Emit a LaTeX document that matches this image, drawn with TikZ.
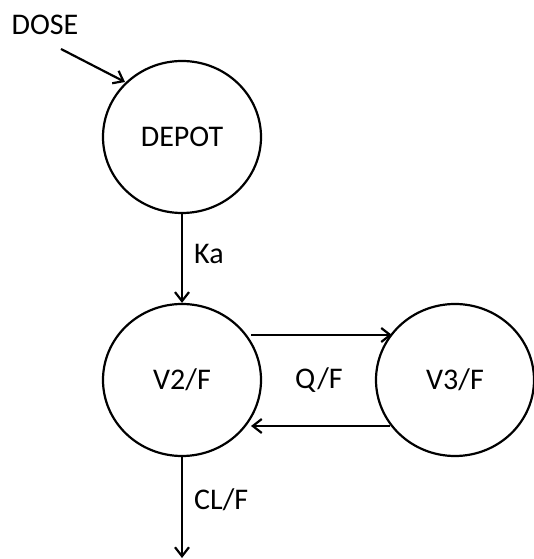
\documentclass[tikz,border=0pt]{standalone}
\usepackage{fontspec}
\setmainfont{Carlito}
\usetikzlibrary{arrows.meta,shapes.geometric}
\begin{document}
\begin{tikzpicture}[x=1pt,y=1pt,
  comp/.style={draw, ellipse, line width=2.2pt, minimum width=158pt, minimum height=152pt, inner sep=0pt, font=\fontsize{30}{32}\selectfont},
  lbl/.style={inner sep=0pt, font=\fontsize{30}{32}\selectfont},
  arr/.style={line width=2.2pt, -{Straight Barb[length=9pt,width=14pt,line width=2.2pt]}}]
\useasboundingbox (0,0) rectangle (533,559);
\node[comp] (depot) at (182,422) {DEPOT};
\node[comp] (v2) at (182,179) {V2/F};
\node[comp] (v3) at (455,179) {V3/F};
\node[lbl] (dose) at (45,534) {DOSE};
\node[lbl, anchor=west] (ka) at (194,305) {Ka};
\node[lbl] (qf) at (319,179) {Q/F};
\node[lbl, anchor=west] (clf) at (194,59) {CL/F};
\coordinate (dosestart) at (61,510);
\coordinate (elim) at (182,1);
\draw[arr] (dosestart) -- ([xshift=-57pt,yshift=55pt]depot.center);
\draw[arr] (depot.south) -- (v2.north);
\draw[arr] ([xshift=69pt,yshift=45pt]v2.center) -- ([xshift=-63pt,yshift=45pt]v3.center);
\draw[arr] ([xshift=-65pt,yshift=-46pt]v3.center) -- ([xshift=69pt,yshift=-46pt]v2.center);
\draw[arr] (v2.south) -- (elim);
\end{tikzpicture}
\end{document}
